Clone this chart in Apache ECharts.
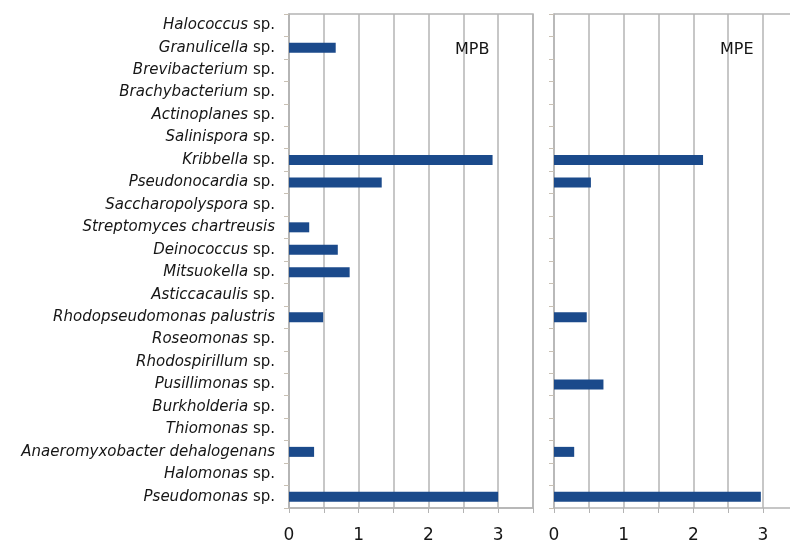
<!DOCTYPE html>
<html>
<head>
<meta charset="utf-8">
<script src="https://cdn.jsdelivr.net/npm/echarts@6/dist/echarts.min.js"></script>
<style>
  html, body { margin: 0; padding: 0; background: #fff; }
  #chart { width: 790px; height: 542px; }
</style>
</head>
<body>
<div id="chart"></div>
<script>
// Taxa, listed top to bottom; genus/species part is italic, "sp." is upright
const genera = [
  'Halococcus', 'Granulicella', 'Brevibacterium', 'Brachybacterium', 'Actinoplanes',
  'Salinispora', 'Kribbella', 'Pseudonocardia', 'Saccharopolyspora', 'Streptomyces chartreusis',
  'Deinococcus', 'Mitsuokella', 'Asticcacaulis', 'Rhodopseudomonas palustris', 'Roseomonas',
  'Rhodospirillum', 'Pusillimonas', 'Burkholderia', 'Thiomonas', 'Anaeromyxobacter dehalogenans',
  'Halomonas', 'Pseudomonas'
];
const suffixes = [
  'sp.', 'sp.', 'sp.', 'sp.', 'sp.',
  'sp.', 'sp.', 'sp.', 'sp.', '',
  'sp.', 'sp.', 'sp.', '', 'sp.',
  'sp.', 'sp.', 'sp.', 'sp.', '',
  'sp.', 'sp.'
];
const mpbValues = [0, 0.67, 0, 0, 0, 0, 2.92, 1.33, 0, 0.29, 0.70, 0.87, 0, 0.49, 0, 0, 0, 0, 0, 0.36, 0, 3.0];
const mpeValues = [0, 0, 0, 0, 0, 0, 2.14, 0.53, 0, 0, 0, 0, 0, 0.47, 0, 0, 0.71, 0, 0, 0.29, 0, 2.97];
const xTicks = [0, 1, 2, 3];
const panelNames = ['MPB', 'MPE'];

const categories = genera.map((g, i) => g + (suffixes[i] ? ' ' + suffixes[i] : ''));

const FONT = '"DejaVu Sans", "Open Sans", sans-serif';
const GRID_COLOR = '#b4b4b4';
const BAR_COLOR = '#1b4a8b';
const TEXT_COLOR = '#161616';

function xAxisFor(gridIndex, max) {
  return {
    type: 'value', gridIndex, min: 0, max, interval: 0.5,
    axisLine: { show: true, lineStyle: { color: GRID_COLOR, width: 1.5 } },
    axisTick: { show: true, length: 5, lineStyle: { color: GRID_COLOR } },
    splitLine: { show: true, lineStyle: { color: GRID_COLOR, width: 1.5 } },
    axisLabel: {
      margin: 19, color: TEXT_COLOR, fontSize: 17, fontFamily: FONT, fontWeight: 500,
      formatter: v => (xTicks.includes(v) ? String(v) : '')
    }
  };
}

// plain line along the top edge of a panel
function topEdgeFor(gridIndex, max) {
  return {
    type: 'value', gridIndex, min: 0, max, position: 'top',
    axisLine: { show: true, lineStyle: { color: GRID_COLOR, width: 1.5 } },
    axisTick: { show: false }, splitLine: { show: false }, axisLabel: { show: false }
  };
}

function yAxisFor(gridIndex, showLabels) {
  return {
    type: 'category', gridIndex, data: categories, inverse: true,
    axisLine: { show: true, lineStyle: { color: GRID_COLOR, width: 1.5 } },
    axisTick: { show: true, length: 5, lineStyle: { color: '#c8c0b4' } },
    axisLabel: {
      show: showLabels, margin: 14, color: TEXT_COLOR, fontSize: 15, fontFamily: FONT,
      formatter: (val, idx) => {
        const s = suffixes[idx];
        return '{i|' + genera[idx] + '}' + (s ? '{n| ' + s + '}' : '');
      },
      rich: {
        i: { fontStyle: 'italic', fontSize: 15, fontFamily: FONT, color: TEXT_COLOR },
        n: { fontSize: 15, fontFamily: FONT, color: TEXT_COLOR }
      }
    }
  };
}

const chart = echarts.init(document.getElementById('chart'), null, { renderer: 'canvas' });
chart.setOption({
  animation: false,
  backgroundColor: '#ffffff',
  title: [
    { text: panelNames[0], left: 450, top: 37, textStyle: { fontSize: 16, fontWeight: 500, color: TEXT_COLOR, fontFamily: FONT } },
    { text: panelNames[1], left: 715, top: 37, textStyle: { fontSize: 16, fontWeight: 500, color: TEXT_COLOR, fontFamily: FONT } }
  ],
  grid: [
    { left: 289, width: 244, top: 14, bottom: 34, show: true, borderColor: GRID_COLOR, borderWidth: 1.5,
      outerBoundsMode: 'none' },
    // the right panel runs on past the page edge
    { left: 554, width: 237.5, top: 14, bottom: 34, show: false, outerBoundsMode: 'none' }
  ],
  xAxis: [xAxisFor(0, 3.5), xAxisFor(1, 3.41), topEdgeFor(1, 3.41)],
  yAxis: [yAxisFor(0, true), yAxisFor(1, false)],
  series: [
    { name: panelNames[0], type: 'bar', xAxisIndex: 0, yAxisIndex: 0, data: mpbValues, barWidth: 10,
      itemStyle: { color: BAR_COLOR } },
    { name: panelNames[1], type: 'bar', xAxisIndex: 1, yAxisIndex: 1, data: mpeValues, barWidth: 10,
      itemStyle: { color: BAR_COLOR } }
  ]
});
</script>
</body>
</html>
